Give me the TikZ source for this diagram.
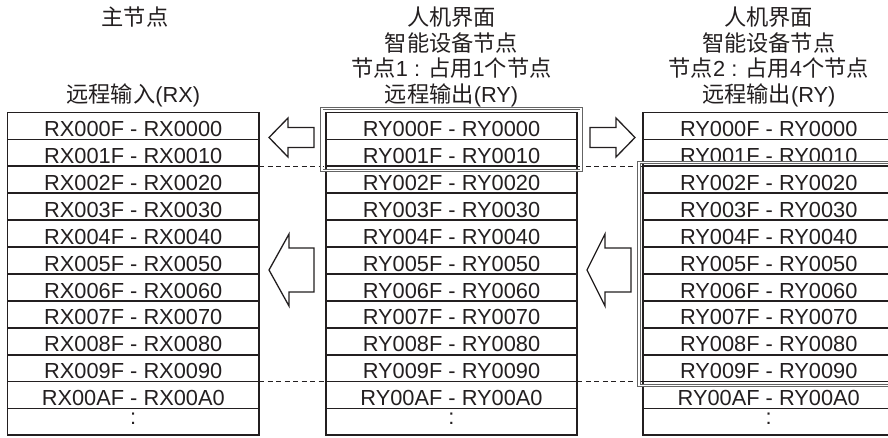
\documentclass[tikz,border=0pt]{standalone}
\usepackage{fontspec}
\setmainfont{Liberation Sans}
\newfontfamily\cjk{Noto Sans CJK SC}[Scale=1.02]
\usetikzlibrary{fit}
\definecolor{ink}{RGB}{35,31,32}
\definecolor{hl}{RGB}{100,100,100}
\begin{document}
\begin{tikzpicture}[x=1pt,y=-1pt,
  cell/.style={draw=ink, line width=1.8pt, minimum width=251.5pt, minimum height=26.9pt,
    inner sep=0pt, outer sep=0pt, text height=21.4pt, text depth=0pt, text=ink,
    font=\fontsize{21.8}{24}\selectfont},
  head/.style={anchor=base, text=ink, font=\fontsize{21.8}{24}\selectfont, inner sep=0pt},
  blockarrow/.style={draw=ink, line width=1.3pt, fill=white, line join=miter},
  link/.style={draw=ink, line width=0.9pt, dash pattern=on 5pt off 3.5pt},
  hilite/.style={draw=hl, double=white, double distance=1.6pt, line width=0.8pt, inner sep=4pt}]

\useasboundingbox (0,0) rectangle (888,437);
\clip (0,0) rectangle (888,437);

% headers
\node[head] (hL1) at (135,25.5) {\cjk 主节点};
\node[head] (hL2) at (133.25,102) {{\cjk 远程输入}(RX)};

\node[head] (hM1) at (451.5,25.5) {\cjk 人机界面};
\node[head] (hM2) at (451.5,51) {\cjk 智能设备节点};
\node[head] (hM3) at (451.5,76.5) {{\cjk 节点}1 : {\cjk 占用}1{\cjk 个节点}};
\node[head] (hM4) at (451.5,102) {{\cjk 远程输出}(RY)};

\node[head] (hR1) at (768.75,25.5) {\cjk 人机界面};
\node[head] (hR2) at (768.75,51) {\cjk 智能设备节点};
\node[head] (hR3) at (768.75,76.5) {{\cjk 节点}2 : {\cjk 占用}4{\cjk 个节点}};
\node[head] (hR4) at (768.75,102) {{\cjk 远程输出}(RY)};

% tables
\foreach \i/\a/\b in {1/000F/0000,2/001F/0010,3/002F/0020,4/003F/0030,5/004F/0040,6/005F/0050,7/006F/0060,8/007F/0070,9/008F/0080,10/009F/0090,11/00AF/00A0} {
  \pgfmathsetmacro\yy{112.5+26.9*(\i-0.5)}
  \node[cell] (L\i) at (133.25,\yy) {RX\a{} - RX\b};
  \node[cell] (M\i) at (451.5,\yy) {RY\a{} - RY\b};
  \node[cell] (R\i) at (768.75,\yy) {RY\a{} - RY\b};
}
\pgfmathsetmacro\yy{112.5+26.9*11.5}
\node[cell] (L12) at (133.25,\yy) {\raisebox{8pt}{:}};
\node[cell] (M12) at (451.5,\yy) {\raisebox{8pt}{:}};
\node[cell] (R12) at (768.75,\yy) {\raisebox{8pt}{:}};

% dashed boundaries
\draw[link] (L2.south east) -- (M2.south west);
\draw[link] (M2.south east) -- (R2.south west);
\draw[link] (L10.south east) -- (M10.south west);
\draw[link] (M10.south east) -- (R10.south west);

% highlight frames
\node[hilite, fit=(M1)(M2)] (hlM) {};
\node[hilite, fit=(R3)(R10)] (hlR) {};

% block arrows
\draw[blockarrow] (269,137.5) -- (288,118) -- (288,127.5) -- (314,127.5) -- (314,147.5)
  -- (288,147.5) -- (288,157) -- cycle;
\draw[blockarrow] (635,137.5) -- (616,118) -- (616,127.5) -- (590,127.5) -- (590,147.5)
  -- (616,147.5) -- (616,157) -- cycle;
\draw[blockarrow] (269,270) -- (289,234) -- (289,248) -- (314,248) -- (314,292)
  -- (289,292) -- (289,306) -- cycle;
\draw[blockarrow] (587,270) -- (605,234) -- (605,248) -- (631,248) -- (631,292)
  -- (605,292) -- (605,306) -- cycle;
\end{tikzpicture}
\end{document}
